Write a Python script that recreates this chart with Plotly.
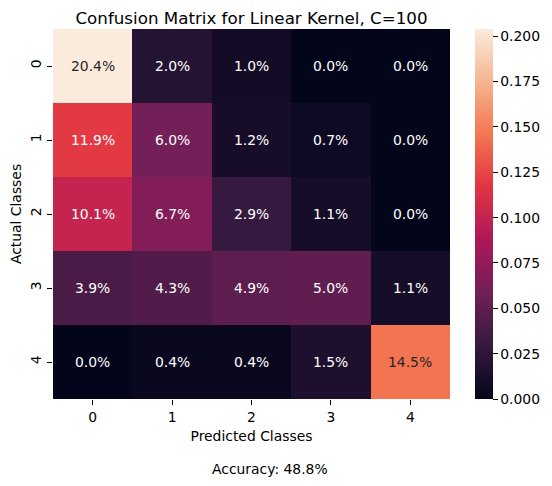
import plotly.graph_objects as go

classes = ["0", "1", "2", "3", "4"]

# percent of all test samples, rows = actual, cols = predicted
row_0 = [20.4, 2.0, 1.0, 0.0, 0.0]
row_1 = [11.9, 6.0, 1.2, 0.7, 0.0]
row_2 = [10.1, 6.7, 2.9, 1.1, 0.0]
row_3 = [3.9, 4.3, 4.9, 5.0, 1.1]
row_4 = [0.0, 0.4, 0.4, 1.5, 14.5]

accuracy = 48.8

cm = [[v / 100 for v in r] for r in [row_0, row_1, row_2, row_3, row_4]]
zmax = max(max(r) for r in cm)

# seaborn "rocket"
rocket = [
    [0.0, "#03051a"],
    [1 / 7, "#35193e"],
    [2 / 7, "#701f57"],
    [3 / 7, "#ad1759"],
    [4 / 7, "#e13342"],
    [5 / 7, "#f37651"],
    [6 / 7, "#f6b48f"],
    [1.0, "#faebdd"],
]

FONT = "DejaVu Sans"
TXT = dict(family=FONT, size=13.9, color="black")

# page body has an 8px margin, so the figure is drawn a bit smaller
W, H = 544, 478

fig = go.Figure(go.Heatmap(
    z=cm, x=classes, y=classes,
    zmin=0, zmax=zmax,
    colorscale=rocket,
    hoverinfo="skip",
    colorbar=dict(
        x=1.063, xanchor="left", y=0.5, yanchor="middle",
        len=1, lenmode="fraction", thickness=18,
        outlinewidth=0, xpad=0, ypad=0,
        tickvals=[0, 0.025, 0.05, 0.075, 0.1, 0.125, 0.15, 0.175, 0.2],
        tickformat=".3f",
        ticks="outside", ticklen=5, tickwidth=1, tickcolor="black",
        tickfont=TXT,
    ),
))

for i, r in enumerate(cm):
    for j, v in enumerate(r):
        fig.add_annotation(
            x=classes[j], y=classes[i], text=f"{v * 100:.1f}%",
            showarrow=False,
            font=dict(family=FONT, size=13.9,
                      color="#262626" if v > 0.6 * zmax else "white"),
        )

fig.add_annotation(
    x=0.5466, y=-0.19, xref="paper", yref="paper",
    text=f"Accuracy: {accuracy:.1f}%", showarrow=False,
    xanchor="center", yanchor="middle", font=TXT,
)

fig.update_layout(
    width=W, height=H,
    margin=dict(l=45, r=102, t=21, b=87, autoexpand=False),
    paper_bgcolor="white", plot_bgcolor="white",
    font=TXT,
    title=dict(text="Confusion Matrix for Linear Kernel, C=100",
               x=(251.5 - 8) / W, xanchor="center",
               y=1 - 9.8 / H, yanchor="middle",
               font=dict(family=FONT, size=16.7, color="black")),
)
fig.update_xaxes(
    title=dict(text="Predicted Classes", standoff=7, font=TXT),
    tickfont=TXT, automargin=False,
    ticks="outside", ticklen=5, tickwidth=1, tickcolor="black",
    showline=False, showgrid=False, zeroline=False,
)
fig.update_yaxes(
    title=dict(text="Actual Classes", standoff=4, font=TXT),
    tickfont=TXT, automargin=False,
    autorange="reversed", tickangle=-90,
    ticks="outside", ticklen=5, tickwidth=1, tickcolor="black",
    showline=False, showgrid=False, zeroline=False,
)

fig.write_html("out.html")
